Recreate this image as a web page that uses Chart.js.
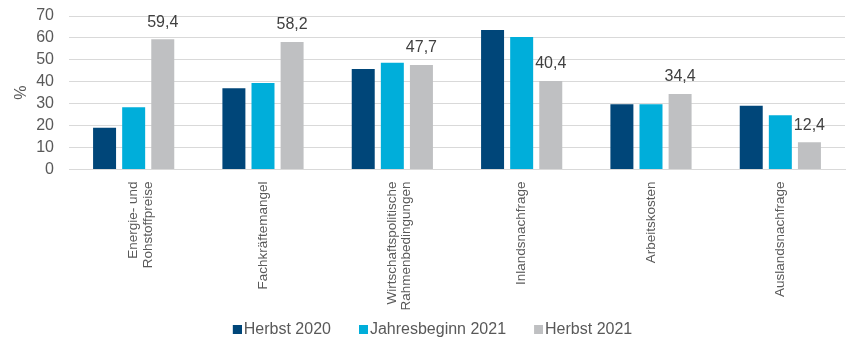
<!DOCTYPE html>
<html>
<head>
<meta charset="utf-8">
<script src="https://cdn.jsdelivr.net/npm/chart.js@4"></script>
<style>
  html, body { margin: 0; padding: 0; background: #ffffff; }
  #wrap { width: 861px; height: 343px; }
</style>
</head>
<body>
<div id="wrap"><canvas id="c" width="861" height="343"></canvas></div>
<script>
const categories = [
  ["Energie- und", "Rohstoffpreise"],
  "Fachkräftemangel",
  ["Wirtschaftspolitische", "Rahmenbedingungen"],
  "Inlandsnachfrage",
  "Arbeitskosten",
  "Auslandsnachfrage"
];
const seriesNames = ["Herbst 2020", "Jahresbeginn 2021", "Herbst 2021"];
const herbst2020 = [19.0, 37.1, 45.8, 63.6, 29.7, 29.1];
const jahresbeginn2021 = [28.4, 39.5, 48.7, 60.4, 29.7, 24.7];
const herbst2021 = [59.4, 58.2, 47.7, 40.4, 34.4, 12.4];

const colors = ["#004679", "#00AEDA", "#BFC0C2"];
const FONT = "'Liberation Sans', Arial, sans-serif";

// legend swatch: small square at the right end of a transparent strip
function swatch(color) {
  const c = document.createElement("canvas");
  c.width = 31; c.height = 9;
  const g = c.getContext("2d");
  g.fillStyle = color;
  g.fillRect(22, 0, 9, 9);
  return c;
}

const labelPlugin = {
  id: "grayLabels",
  afterDatasetsDraw(chart) {
    const ctx = chart.ctx;
    const meta = chart.getDatasetMeta(2);
    ctx.save();
    ctx.font = "16px " + FONT;
    ctx.fillStyle = "#404040";
    ctx.textAlign = "center";
    ctx.textBaseline = "bottom";
    meta.data.forEach((bar, i) => {
      const v = chart.data.datasets[2].data[i];
      ctx.fillText(v.toFixed(1).replace(".", ","), bar.x, bar.y - 9);
    });
    ctx.restore();
  }
};

new Chart(document.getElementById("c"), {
  type: "bar",
  data: {
    labels: categories,
    datasets: [
      { label: seriesNames[0], data: herbst2020, backgroundColor: colors[0], pointStyle: swatch(colors[0]) },
      { label: seriesNames[1], data: jahresbeginn2021, backgroundColor: colors[1], pointStyle: swatch(colors[1]) },
      { label: seriesNames[2], data: herbst2021, backgroundColor: colors[2], pointStyle: swatch(colors[2]) }
    ]
  },
  options: {
    responsive: false,
    animation: false,
    layout: { padding: { left: 4, right: 16, top: 16, bottom: -4.5 } },
    datasets: {
      bar: { categoryPercentage: 0.675, barPercentage: 0.79 }
    },
    scales: {
      x: {
        grid: { display: false, drawTicks: false },
        border: { display: true, color: "#d9d9d9", width: 1 },
        afterFit(axis) { axis.height = 140; axis.paddingLeft = 0; axis.paddingRight = 0; },
        ticks: {
          minRotation: 90, maxRotation: 90,
          autoSkip: false,
          padding: 12,
          color: "#595959",
          font: { family: FONT, size: 13.5, lineHeight: 1.06 }
        }
      },
      y: {
        min: 0, max: 70,
        grid: { color: "#d9d9d9", lineWidth: 1, drawTicks: false },
        border: { display: false },
        afterFit(axis) { axis.paddingTop = 0; axis.paddingBottom = 0; axis.width = 65; },
        ticks: {
          stepSize: 10,
          autoSkip: false,
          padding: 15,
          color: "#595959",
          font: { family: FONT, size: 16 }
        },
        title: {
          display: true,
          text: "%",
          color: "#595959",
          font: { family: FONT, size: 16 },
          padding: { top: 8, bottom: 0 }
        }
      }
    },
    plugins: {
      legend: {
        position: "bottom",
        labels: {
          usePointStyle: true,
          pointStyleWidth: 19,
          boxHeight: 9,
          padding: 12,
          color: "#595959",
          font: { family: FONT, size: 16 }
        }
      },
      tooltip: { enabled: false }
    }
  },
  plugins: [labelPlugin]
});
</script>
</body>
</html>
